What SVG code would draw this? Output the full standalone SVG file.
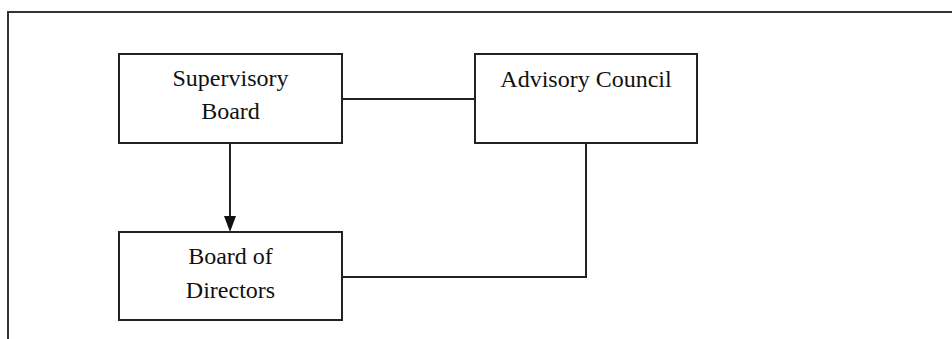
<svg xmlns="http://www.w3.org/2000/svg" width="952" height="339" viewBox="0 0 952 339">
  <style>
    .box { fill: #ffffff; stroke: #222222; stroke-width: 2; }
    .frame { fill: none; stroke: #333333; stroke-width: 2; }
    .link { fill: none; stroke: #222222; stroke-width: 2; }
    .head { fill: #111111; }
    .label { font-family: "Liberation Serif", "Times New Roman", serif; font-size: 24px; fill: #111111; text-anchor: middle; }
  </style>
  <rect width="952" height="339" fill="#ffffff"/>
  <!-- page frame -->
  <path class="frame" d="M8,339 V12 H952"/>

  <g id="connectors">
    <line class="link" x1="342" y1="99" x2="475" y2="99"/>
    <line class="link" x1="230" y1="143" x2="230" y2="217"/>
    <path class="head" d="M224,216 L236,216 L230,232 Z"/>
    <path class="link" d="M342,277 H586 V143"/>
  </g>

  <g id="supervisory-board">
    <rect class="box" x="119" y="54" width="223" height="89"/>
    <text class="label" x="230.5" y="86">Supervisory</text>
    <text class="label" x="230.5" y="119">Board</text>
  </g>

  <g id="advisory-council">
    <rect class="box" x="475" y="54" width="222" height="89"/>
    <text class="label" x="586" y="87">Advisory Council</text>
  </g>

  <g id="board-of-directors">
    <rect class="box" x="119" y="232" width="223" height="88"/>
    <text class="label" x="230.5" y="264">Board of</text>
    <text class="label" x="230.5" y="298">Directors</text>
  </g>
</svg>
